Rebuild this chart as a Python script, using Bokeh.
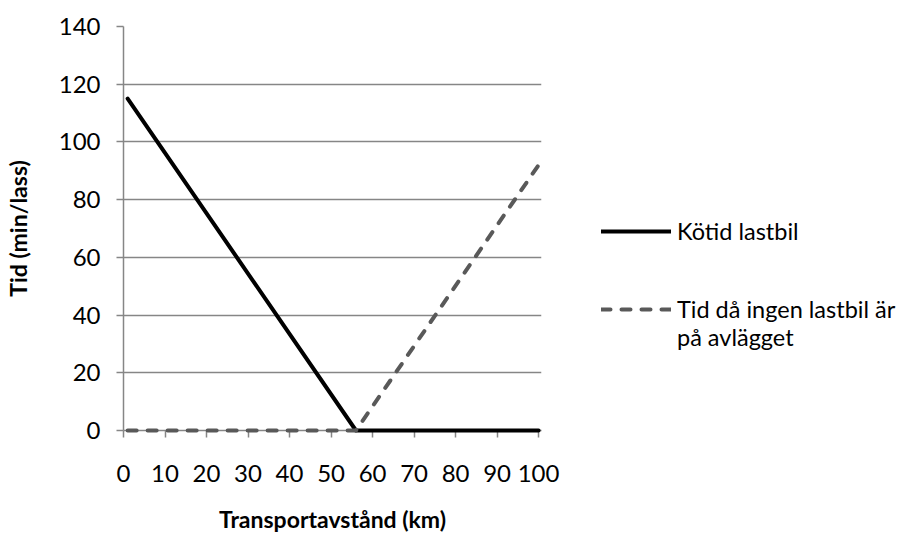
from bokeh.plotting import figure
from bokeh.layouts import row
from bokeh.models import Range1d, FixedTicker, Legend, LegendItem
from bokeh.embed import file_html
from bokeh.resources import INLINE

distance = [1, 56, 100]
queue_time = [115, 0, 0]
idle_time = [0, 0, 92]
x_ticks = list(range(0, 101, 10))
y_ticks = list(range(0, 141, 20))
series_names = ["Kötid lastbil", "\u00a0\nTid då ingen lastbil är\npå avlägget"]

FONT = "Lato"
GRAY = "#868686"
SOLID = dict(line_width=4, line_color="black", line_cap="round", line_join="round")
DASHED = dict(line_width=4, line_color="#595959", line_dash="9 11", line_cap="round",
              line_join="round")

p = figure(frame_width=418, frame_height=404, output_backend="svg", toolbar_location=None,
           x_range=Range1d(0, 100.7), y_range=Range1d(0, 140),
           min_border_left=122, min_border_right=25, min_border_top=26,
           min_border_bottom=100)
p.outline_line_color = None

p.line(distance, queue_time, level="overlay", **SOLID)
p.line(distance, idle_time, level="overlay", **DASHED)

for ax in (p.xaxis[0], p.yaxis[0]):
    ax.axis_line_color = GRAY
    ax.axis_line_width = 1.5
    ax.major_tick_line_color = GRAY
    ax.major_tick_line_width = 1.5
    ax.major_tick_out = 7
    ax.major_tick_in = 0
    ax.minor_tick_line_color = None
    ax.major_label_text_font = FONT
    ax.major_label_text_font_size = "24px"
    ax.major_label_text_color = "black"
    ax.axis_label_text_font = FONT
    ax.axis_label_text_font_size = "23px"
    ax.axis_label_text_font_style = "bold"
    ax.axis_label_text_color = "black"

p.xaxis.ticker = FixedTicker(ticks=x_ticks)
p.yaxis.ticker = FixedTicker(ticks=y_ticks)
p.xaxis.axis_label = "Transportavstånd (km)"
p.yaxis.axis_label = "Tid (min/lass)"
p.xaxis.major_label_standoff = 27
p.yaxis.major_label_standoff = 16
p.xaxis.axis_label_standoff = 20
p.yaxis.axis_label_standoff = 24

p.xgrid.grid_line_color = None
p.ygrid.grid_line_color = GRAY
p.ygrid.grid_line_width = 1.5

# legend panel (its own ranges keep the key lines out of view)
lf = figure(frame_width=343, frame_height=404, output_backend="svg", toolbar_location=None,
            x_range=Range1d(-20, -10), y_range=Range1d(-20, -10),
            x_axis_location=None, y_axis_location=None,
            min_border_left=0, min_border_right=0, min_border_top=26, min_border_bottom=100)
lf.outline_line_color = None
lf.grid.visible = False
k1 = lf.line(distance, queue_time, **SOLID)
k2 = lf.line(distance, idle_time, **DASHED)

legend = Legend(items=[LegendItem(label=series_names[0], renderers=[k1]),
                       LegendItem(label=series_names[1], renderers=[k2])],
                location=(35, 79), orientation="vertical")
legend.border_line_color = None
legend.background_fill_alpha = 0
legend.padding = 0
legend.margin = 0
legend.spacing = 22
legend.glyph_width = 70
legend.glyph_height = 24
legend.label_standoff = 6
legend.label_text_font = FONT
legend.label_text_font_size = "23.5px"
legend.label_text_color = "black"
legend.label_height = 24
lf.add_layout(legend, "center")

open("out.html", "w").write(file_html(row(p, lf), INLINE))
